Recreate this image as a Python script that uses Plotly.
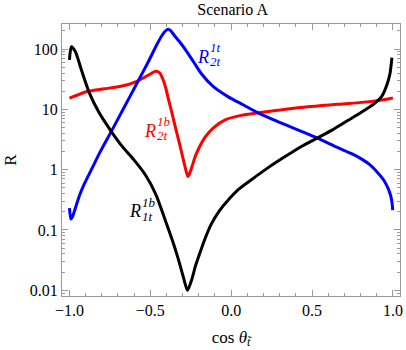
import plotly.graph_objects as go

# R_{1t}^{1b} (black)
black_x = [-1.000, -0.988, -0.963, -0.926, -0.877, -0.816, -0.744, -0.675, -0.601, -0.528,
           -0.466, -0.399, -0.356, -0.325, -0.294, -0.270, -0.245, -0.221, -0.202, -0.160,
           -0.123, -0.074, -0.018, 0.049, 0.123, 0.227, 0.331, 0.429, 0.534, 0.626,
           0.718, 0.810, 0.883, 0.933, 0.963, 0.982, 0.994]
black_y = [66, 109, 90, 45, 18.8, 8.75, 4.4, 2.45, 1.45, 0.80,
           0.390, 0.125, 0.0583, 0.0316, 0.0159, 0.0100, 0.0147, 0.0251, 0.0355, 0.0734,
           0.125, 0.206, 0.314, 0.478, 0.674, 1.07, 1.63, 2.38, 3.36, 4.57,
           6.45, 9.1, 12.3, 16.7, 25.5, 38.9, 71.8]

# R_{2t}^{1t} (blue)
blue_x = [-1.000, -0.991, -0.982, -0.963, -0.939, -0.908, -0.859, -0.810, -0.736, -0.663,
          -0.571, -0.509, -0.460, -0.429, -0.405, -0.390, -0.374, -0.350, -0.319, -0.282,
          -0.233, -0.184, -0.110, -0.018, 0.074, 0.166, 0.288, 0.411, 0.534, 0.656,
          0.748, 0.810, 0.859, 0.902, 0.943, 0.969, 0.985, 0.994, 0.999]
blue_y = [0.231, 0.152, 0.164, 0.231, 0.366, 0.579, 1.07, 1.97, 4.57, 10.6,
          30.9, 64, 118, 166, 201, 213, 201, 166, 132, 97,
          61.5, 38.9, 23.7, 16.1, 11.9, 8.75, 6.27, 4.57, 3.33, 2.34,
          1.82, 1.48, 1.20, 0.916, 0.674, 0.497, 0.380, 0.291, 0.214]

# R_{2t}^{1b} (red)
red_x = [-1.000, -0.890, -0.785, -0.681, -0.583, -0.509, -0.466, -0.442, -0.423, -0.405,
         -0.387, -0.368, -0.344, -0.319, -0.294, -0.276, -0.267, -0.258, -0.239, -0.221,
         -0.196, -0.160, -0.110, -0.037, 0.061, 0.166, 0.288, 0.472, 0.656, 0.840,
         0.963, 1.000]
red_y = [15.3, 19.8, 21.9, 24.1, 29.2, 37.4, 42.8, 40.4, 32.1, 22.8,
         14.4, 9.1, 4.93, 2.67, 1.40, 0.90, 0.771, 0.849, 1.20, 1.69,
         2.38, 3.49, 4.93, 6.70, 7.94, 8.75, 9.62, 11.0, 12.1, 13.3,
         14.7, 15.5]

x_tickvals = [-1.0, -0.5, 0.0, 0.5, 1.0]
x_ticktext = ["\u22121.0", "\u22120.5", "0.0", "0.5", "1.0"]
y_tickvals = [0.01, 0.1, 1, 10, 100]
y_ticktext = ["0.01", "0.1", "1", "10", "100"]

SERIF = "Liberation Serif"
FRAME = "#9a9a9a"

fig = go.Figure()
for xs, ys, color in [(red_x, red_y, "#ff0000"), (blue_x, blue_y, "#0000ff"), (black_x, black_y, "#000000")]:
    fig.add_trace(
        go.Scatter(
            x=xs,
            y=ys,
            mode="lines",
            line=dict(color=color, width=3, shape="spline", smoothing=0.7),
            showlegend=False,
            hoverinfo="skip",
        )
    )


def add_label(x, logy, sup, sub, color):
    """R with stacked super/subscript, positioned in data coords (log10 for y)"""
    fig.add_annotation(x=x, y=logy, text="<i>R</i>", showarrow=False, xanchor="center", yanchor="middle",
                       font=dict(family=SERIF, size=18, color=color))
    fig.add_annotation(x=x, y=logy, text=f"<i>{sup}</i>", showarrow=False, xanchor="left", yanchor="middle",
                       xshift=5, yshift=9, font=dict(family=SERIF, size=13, color=color))
    fig.add_annotation(x=x, y=logy, text=f"<i>{sub}</i>", showarrow=False, xanchor="left", yanchor="middle",
                       xshift=5, yshift=-5, font=dict(family=SERIF, size=13, color=color))


add_label(-0.172, 1.87, "1t", "2t", "#0000ff")
add_label(-0.503, 0.643, "1b", "2t", "#ff0000")
add_label(-0.595, -0.686, "1b", "1t", "#000000")

axis_common = dict(
    showline=True,
    linecolor=FRAME,
    linewidth=1,
    mirror="allticks",
    ticks="inside",
    tickcolor=FRAME,
    tickwidth=1,
    showgrid=False,
    zeroline=False,
    tickfont=dict(family=SERIF, size=16, color="black"),
)

fig.update_xaxes(
    range=[-1.046, 1.044],
    tickvals=x_tickvals,
    ticktext=x_ticktext,
    ticklen=6,
    minor=dict(ticks="inside", ticklen=3, tickcolor=FRAME, tickwidth=1, dtick=0.1, showgrid=False),
    title=dict(text="cos <i>\u03b8</i><sub><i>t\u0303</i></sub>", font=dict(family=SERIF, size=17, color="black"),
               standoff=12),
    **axis_common,
)
fig.update_yaxes(
    type="log",
    range=[-2.095, 2.415],
    tickvals=y_tickvals,
    ticktext=y_ticktext,
    ticklen=6,
    minor=dict(ticks="inside", ticklen=3, tickcolor=FRAME, tickwidth=1, dtick="D1", showgrid=False),
    title=dict(text="R", font=dict(family=SERIF, size=17, color="black"), standoff=8),
    **axis_common,
)

fig.update_layout(
    width=406,
    height=350,
    margin=dict(l=62, r=3, t=24, b=54),
    paper_bgcolor="white",
    plot_bgcolor="white",
    title=dict(text="Scenario A", x=0.573, xanchor="center", y=0.99, yanchor="top",
               font=dict(family=SERIF, size=16, color="black")),
)

fig.write_html("out.html", config={"displayModeBar": False},
               post_script="document.body.style.margin='0px';")
